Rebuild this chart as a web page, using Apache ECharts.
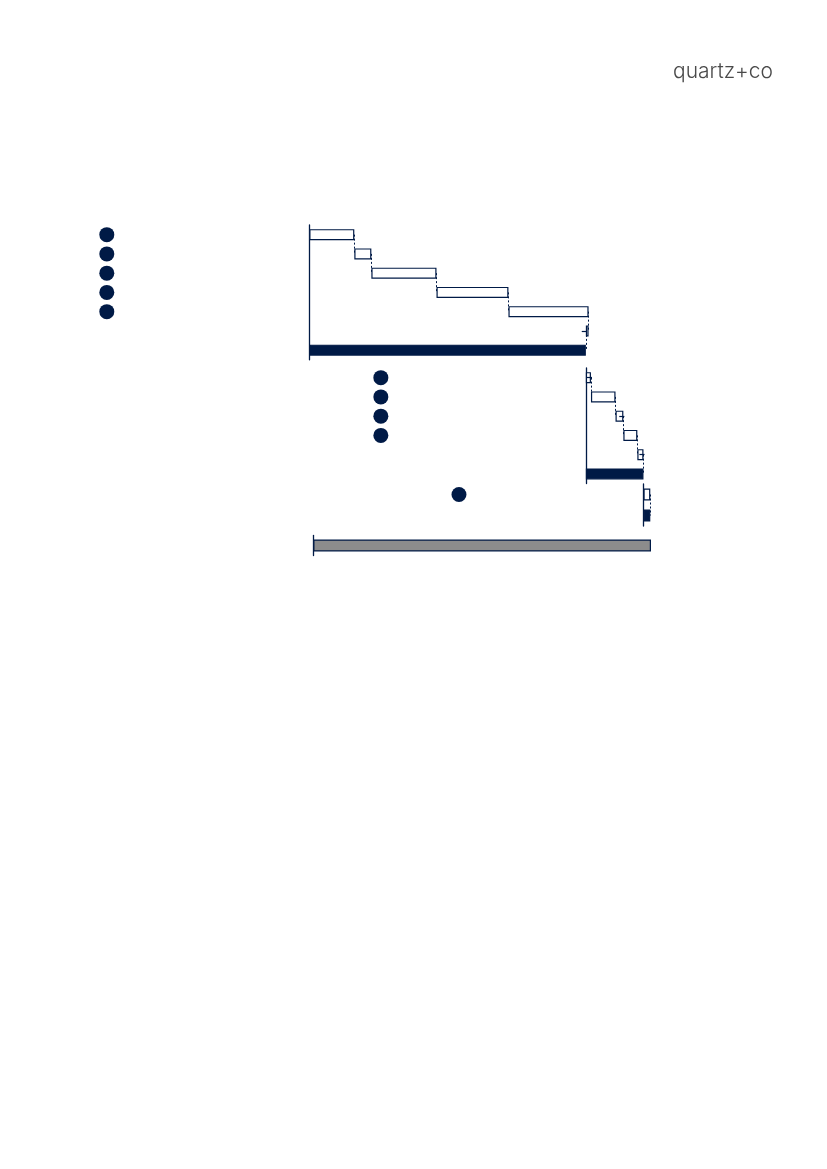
<!DOCTYPE html>
<html lang="en">
<head>
    <meta charset="UTF-8">
    <title>quartz+co</title>
    <script src="https://cdn.jsdelivr.net/npm/echarts@6/dist/echarts.min.js"></script>
    <style>
        html, body { margin: 0; padding: 0; background: #fff; }
        #main { width: 827px; height: 1169px; }
    </style>
</head>
<body>
<div id="main"></div>

<script>
    // step values of each block (share of the whole, %)
    var sec1Values = [13.2, 5.0, 19.1, 21.1, 23.5, -0.8];
    var sec2Values = [1.5, 7.2, 2.3, 4.1, 1.8];
    var sec3Values = [2.0];
    var grandTotal = [100];

    // rows that carry a round marker, rows that carry a small end tick
    var sec1Dots = [0, 1, 2, 3, 4];
    var sec2Dots = [0, 1, 2, 3];
    var sec3Dots = [0];
    var sec1Ticks = [5];
    var sec2Ticks = [0, 2, 4];
    var sec3Ticks = [0];
    var greyTicks = [0];

    var navy = '#001a46';
    var PX = 3.41;      // pixels per unit
    var X0 = 309.3;     // where 0 sits
    var BAND = 19.25;

    var myChart = echarts.init(document.getElementById('main'));

    var grids = [], xAxes = [], yAxes = [], series = [];

    function addSection(values, start, top, band, barW, dots, ticks, margin) {
        var gi = grids.length;
        var cats = [];
        for (var i = 0; i <= values.length; i++) cats.push('s' + gi + '_' + i);

        var base = [], vis = [], lines = [];
        var cum = start;
        values.forEach(function (v, i) {
            var end = cum + v;
            base.push(Math.min(cum, end));
            vis.push({value: Math.abs(v), itemStyle: {color: '#fff'}});
            lines.push([
                {coord: [end, cats[i]], lineStyle: {type: [2, 2], width: 1, color: navy}},
                {coord: [end, cats[i + 1]]}
            ]);
            if (ticks.indexOf(i) >= 0) {
                lines.push([
                    {coord: [end - 1.2, cats[i]], lineStyle: {type: 'solid', width: 1.2, color: navy}},
                    {coord: [end + 0.3, cats[i]]}
                ]);
            }
            cum = end;
        });
        base.push(start);
        vis.push({value: cum - start, itemStyle: {color: navy}});

        grids.push({
            left: X0 + start * PX,
            width: (100 - start) * PX,
            top: top,
            height: band * cats.length
        });
        xAxes.push({
            type: 'value', gridIndex: gi, min: start, max: 100, show: false
        });
        yAxes.push({
            type: 'category', gridIndex: gi, data: cats, inverse: true,
            axisLine: {show: true, lineStyle: {color: navy, width: 1.3}},
            axisTick: {show: false},
            splitLine: {show: false},
            axisLabel: {
                margin: margin,
                formatter: function (val, idx) {
                    return dots.indexOf(idx) >= 0 ? '{dot| }' : '';
                },
                rich: {
                    dot: {width: 15, height: 15, borderRadius: 7.5, backgroundColor: navy}
                }
            }
        });
        series.push({
            type: 'bar', xAxisIndex: gi, yAxisIndex: gi, stack: 'st' + gi,
            data: base, barWidth: barW, silent: true,
            itemStyle: {color: 'transparent'}
        });
        series.push({
            type: 'bar', xAxisIndex: gi, yAxisIndex: gi, stack: 'st' + gi,
            data: vis, barWidth: barW, silent: true,
            itemStyle: {borderColor: navy, borderWidth: 1.2},
            markLine: {
                silent: true, symbol: ['none', 'none'], label: {show: false},
                animation: false, data: lines
            }
        });
        return cum;
    }

    var s2 = addSection(sec1Values, 0, 225, BAND, 11, sec1Dots, sec1Ticks, 195);
    var s3 = addSection(sec2Values, s2, 368, BAND, 11, sec2Dots, sec2Ticks, 197.5);
    addSection(sec3Values, s3, 484, 21, 12, sec3Dots, sec3Ticks, 177);

    // grey grand total on its own strip
    var gi = grids.length;
    grids.push({left: 313.3, width: 337.7, top: 535.5, height: 20});
    xAxes.push({type: 'value', gridIndex: gi, min: 0, max: 100, show: false});
    yAxes.push({
        type: 'category', gridIndex: gi, data: ['grand'],
        axisLine: {show: true, lineStyle: {color: navy, width: 1.3}},
        axisTick: {show: false}, axisLabel: {show: false}
    });
    series.push({
        type: 'bar', xAxisIndex: gi, yAxisIndex: gi, data: grandTotal, barWidth: 12,
        silent: true,
        itemStyle: {color: '#8c8c8c', borderColor: navy, borderWidth: 1.2},
        markLine: {
            silent: true, symbol: ['none', 'none'], label: {show: false}, animation: false,
            data: greyTicks.map(function (i) {
                return [
                    {coord: [grandTotal[i] - 2, 'grand'], lineStyle: {type: 'solid', width: 1.2, color: navy}},
                    {coord: [grandTotal[i] + 0.2, 'grand']}
                ];
            })
        }
    });

    var option = {
        animation: false,
        title: {
            text: 'quartz+co',
            right: 49,
            top: 56,
            textStyle: {
                fontFamily: 'Inter, "Open Sans", sans-serif',
                fontWeight: 300,
                fontSize: 21,
                color: '#4a4a4a'
            }
        },
        grid: grids,
        xAxis: xAxes,
        yAxis: yAxes,
        series: series
    };

    myChart.setOption(option);
</script>
</body>
</html>
